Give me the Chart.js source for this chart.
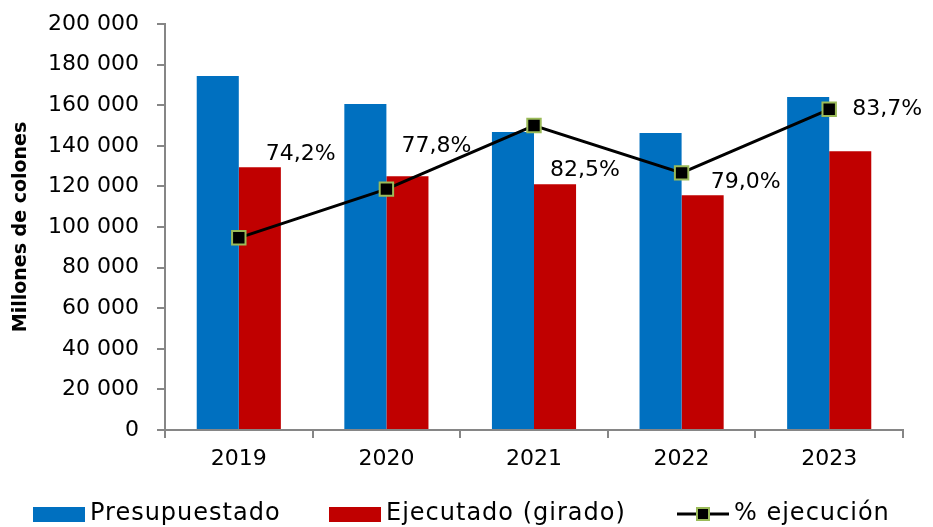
<!DOCTYPE html>
<html>
<head>
<meta charset="utf-8">
<script src="https://cdn.jsdelivr.net/npm/chart.js@4"></script>
<style>
  html, body { margin: 0; padding: 0; background: #fff; }
  #wrap { width: 933px; height: 527px; }
</style>
</head>
<body>
<div id="wrap"><canvas id="chart" width="933" height="527"></canvas></div>
<script>
"use strict";

const years = ["2019", "2020", "2021", "2022", "2023"];
const budgeted = [174400, 160600, 146800, 146300, 164000];
const executed = [129400, 125000, 121100, 115600, 137300];
const execPct = [74.2, 77.8, 82.5, 79.0, 83.7];
const yTicks = [0, 20000, 40000, 60000, 80000, 100000, 120000, 140000, 160000, 180000, 200000];

const FONT = "'DejaVu Sans', sans-serif";
const BLUE = "#0070C0";
const RED = "#C00000";
const AXIS = "#868686";
const GREEN = "#9BBB59";

// where each % label sits relative to its point
const labelShift = [[62, -84], [50, -43], [51, 45], [64, 9], [58, 0]];

function fmtThousands(v) {
  return String(v).replace(/\B(?=(\d{3})+(?!\d))/g, " ");
}

const pctLabels = {
  id: "pctLabels",
  afterDatasetsDraw(chart) {
    const { ctx } = chart;
    const meta = chart.getDatasetMeta(2);
    ctx.save();
    ctx.font = `22px ${FONT}`;
    ctx.fillStyle = "#000";
    ctx.textAlign = "center";
    ctx.textBaseline = "middle";
    meta.data.forEach((pt, i) => {
      const text = execPct[i].toFixed(1).replace(".", ",") + "%";
      ctx.fillText(text, pt.x + labelShift[i][0], pt.y + labelShift[i][1]);
    });
    ctx.restore();
  }
};

const bottomLegend = {
  id: "bottomLegend",
  afterDraw(chart) {
    const { ctx } = chart;
    const y = 514;
    ctx.save();
    ctx.font = `24px ${FONT}`;
    ctx.letterSpacing = "1px";
    ctx.textBaseline = "middle";
    ctx.textAlign = "left";

    ctx.fillStyle = BLUE;
    ctx.fillRect(33, y - 7, 52, 15);
    ctx.fillStyle = "#000";
    ctx.fillText("Presupuestado", 90, y);

    ctx.fillStyle = RED;
    ctx.fillRect(329, y - 7, 52, 15);
    ctx.fillStyle = "#000";
    ctx.fillText("Ejecutado (girado)", 386, y);

    ctx.strokeStyle = "#000";
    ctx.lineWidth = 3;
    ctx.beginPath();
    ctx.moveTo(677, y);
    ctx.lineTo(729, y);
    ctx.stroke();
    ctx.fillStyle = "#000";
    ctx.fillRect(697, y - 6, 12, 12);
    ctx.strokeStyle = GREEN;
    ctx.lineWidth = 2;
    ctx.strokeRect(697, y - 6, 12, 12);
    ctx.fillStyle = "#000";
    ctx.fillText("% ejecución", 734, y);
    ctx.restore();
  }
};

new Chart(document.getElementById("chart"), {
  data: {
    labels: years,
    datasets: [
      {
        type: "bar",
        label: "Presupuestado",
        data: budgeted,
        backgroundColor: BLUE,
        yAxisID: "y",
        order: 2,
        barPercentage: 1,
        categoryPercentage: 0.57
      },
      {
        type: "bar",
        label: "Ejecutado (girado)",
        data: executed,
        backgroundColor: RED,
        yAxisID: "y",
        order: 2,
        barPercentage: 1,
        categoryPercentage: 0.57
      },
      {
        type: "line",
        label: "% ejecución",
        data: execPct,
        borderColor: "#000",
        borderWidth: 3,
        tension: 0,
        pointStyle: "rect",
        pointRadius: 9.5,
        pointBackgroundColor: "#000",
        pointBorderColor: GREEN,
        pointBorderWidth: 2,
        yAxisID: "y1",
        order: 1
      }
    ]
  },
  options: {
    responsive: false,
    animation: false,
    events: [],
    layout: { padding: { left: 0, right: 30, top: 24, bottom: 0 } },
    plugins: {
      legend: { display: false },
      tooltip: { enabled: false }
    },
    scales: {
      x: {
        type: "category",
        offset: true,
        grid: {
          display: true,
          offset: true,
          drawOnChartArea: false,
          drawTicks: true,
          tickLength: 8,
          color: AXIS,
          lineWidth: 2
        },
        border: { display: true, color: AXIS, width: 2 },
        ticks: {
          color: "#000",
          font: { family: FONT, size: 22 },
          padding: 8
        },
        afterFit(scale) {
          scale.height = 97;
          scale.paddingLeft = 0;
          scale.paddingRight = 0;
        }
      },
      y: {
        type: "linear",
        position: "left",
        min: 0,
        max: 200000,
        afterBuildTicks(scale) { scale.ticks = yTicks.map((v) => ({ value: v })); },
        grid: {
          display: true,
          drawOnChartArea: false,
          drawTicks: true,
          tickLength: 8,
          color: AXIS,
          lineWidth: 2
        },
        border: { display: true, color: AXIS, width: 2 },
        ticks: {
          color: "#000",
          font: { family: FONT, size: 22 },
          padding: 18,
          callback: (v) => fmtThousands(v)
        },
        title: {
          display: true,
          text: "Millones de colones",
          color: "#000",
          font: { family: FONT, size: 19, weight: "bold" },
          padding: { top: 10, bottom: 0 }
        },
        afterFit(scale) {
          scale.width = 165;
          scale.paddingTop = 0;
          scale.paddingBottom = 0;
        }
      },
      y1: {
        type: "linear",
        position: "right",
        display: false,
        min: 60,
        max: 90
      }
    }
  },
  plugins: [pctLabels, bottomLegend]
});
</script>
</body>
</html>
